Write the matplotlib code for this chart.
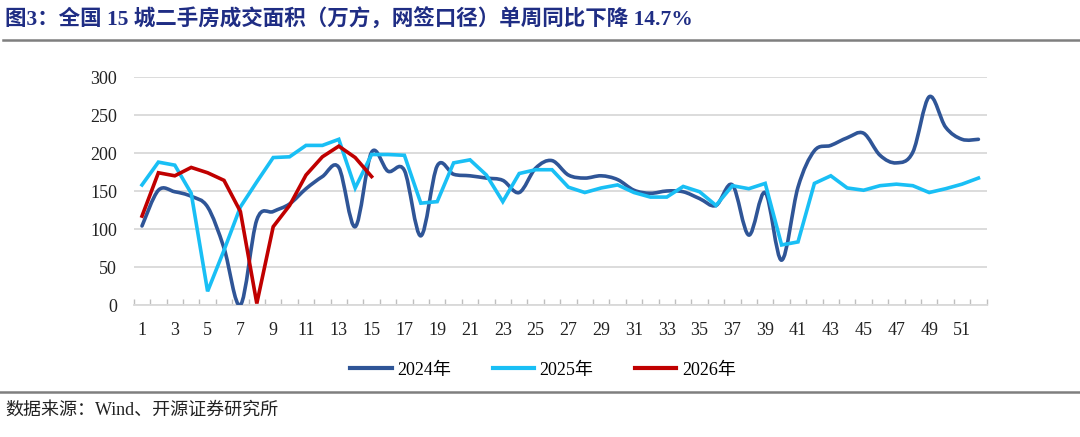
import matplotlib
matplotlib.use("Agg")
import matplotlib.pyplot as plt
from matplotlib.path import Path
from matplotlib.patches import PathPatch
from matplotlib.lines import Line2D
import numpy as np

plt.rcParams['font.family'] = ['Liberation Serif', 'Noto Sans CJK SC', 'DejaVu Sans']

weeks_2024 = list(range(1, 53))
vals_2024 = [104, 151, 149, 143, 129, 75, 0, 112, 123, 133, 153, 169, 181, 103, 201, 176,
             177, 91, 183, 172, 170, 167, 164, 148, 180, 190, 171, 167, 170, 165, 151, 147,
             150, 149, 140, 131, 158, 92, 148, 59, 155, 203, 210, 220, 226, 197, 187, 201,
             274, 234, 218, 218]
weeks_2025 = list(range(1, 53))
vals_2025 = [158, 188, 184, 147, 18, 72, 129, 162, 194, 195, 210, 210, 218, 154, 198, 198,
             197, 134, 136, 187, 191, 171, 136, 173, 178, 178, 155, 148, 154, 158, 148, 142,
             142, 156, 149, 131, 157, 153, 160, 79, 83, 160, 170, 154, 151, 157, 159, 157,
             148, 153, 159, 167]
weeks_2026 = list(range(1, 16))
vals_2026 = [117, 174, 170, 181, 174, 164, 123, 2, 103, 131, 171, 195, 209, 194, 169]

xtick_labels = [str(i) for i in range(1, 53, 2)]
yticks = [0, 50, 100, 150, 200, 250, 300]
series_names = ['2024年', '2025年', '2026年']
colors = ['#2F5597', '#19BFF5', '#C00000']

title = '图3：全国 15 城二手房成交面积（万方，网签口径）单周同比下降 14.7%'
source = '数据来源：Wind、开源证券研究所'

W, H = 1080, 437
fig = plt.figure(figsize=(W / 100, H / 100), dpi=100)
ax = fig.add_axes([133.8 / W, (H - 305) / H, (986.6 - 133.8) / W, (305 - 77) / H])


def smooth_path(xs, ys):
    # Excel-like smoothed line: Catmull-Rom converted to cubic Bezier segments
    xs = np.asarray(xs, float)
    ys = np.asarray(ys, float)
    n = len(xs)
    verts = [(xs[0], ys[0])]
    codes = [Path.MOVETO]
    t = 1 / 6
    for i in range(n - 1):
        p0 = (xs[max(i - 1, 0)], ys[max(i - 1, 0)])
        p1 = (xs[i], ys[i])
        p2 = (xs[i + 1], ys[i + 1])
        p3 = (xs[min(i + 2, n - 1)], ys[min(i + 2, n - 1)])
        c1 = (p1[0] + (p2[0] - p0[0]) * t, p1[1] + (p2[1] - p0[1]) * t)
        c2 = (p2[0] - (p3[0] - p1[0]) * t, p2[1] - (p3[1] - p1[1]) * t)
        verts += [c1, c2, p2]
        codes += [Path.CURVE4] * 3
    return Path(verts, codes)


lw = 2.6
ax.add_patch(PathPatch(smooth_path(weeks_2024, vals_2024), facecolor='none',
                       edgecolor=colors[0], lw=lw, zorder=3, capstyle='round',
                       joinstyle='round'))
ax.plot(weeks_2025, vals_2025, color=colors[1], lw=lw, zorder=3, solid_joinstyle='miter')
ax.plot(weeks_2026, vals_2026, color=colors[2], lw=lw, zorder=4, solid_joinstyle='miter')

ax.set_xlim(0.5, 52.5)
ax.set_ylim(0, 300)
ax.set_yticks(yticks)
ax.set_yticklabels([str(v) for v in yticks], fontsize=13, color='#222222')
ax.set_xticks(range(1, 53, 2))
ax.set_xticklabels(xtick_labels, fontsize=13, color='#222222')
ax.set_xticks(np.arange(0.5, 53, 1), minor=True)
ax.tick_params(axis='x', which='major', length=0, pad=12)
ax.tick_params(axis='x', which='minor', direction='in', length=4, color='#BFBFBF', width=1)
ax.tick_params(axis='y', length=0, pad=12)
ax.grid(axis='y', color='#D9D9D9', lw=1.3, zorder=0)
for s in ['top', 'right', 'left']:
    ax.spines[s].set_visible(False)
ax.spines['bottom'].set_color('#D9D9D9')
ax.spines['bottom'].set_linewidth(1.3)
ax.set_axisbelow(True)

handles = [Line2D([], [], color=c, lw=3) for c in colors]
fig.legend(handles, series_names, loc='center', bbox_to_anchor=(543 / W, 1 - 370 / H),
           ncol=3, frameon=False, fontsize=13, handlelength=2.3, columnspacing=2.3,
           handletextpad=0.3)

fig.text(5 / W, 1 - 20 / H, title, fontsize=15.5, fontweight='bold', color='#1F2D84',
         va='center', ha='left')
fig.add_artist(Line2D([3 / W, 1.0], [1 - 39.5 / H] * 2, color='#7F7F7F', lw=1.8))
fig.add_artist(Line2D([0, 1.0], [1 - 391.5 / H] * 2, color='#7F7F7F', lw=1.8))
fig.text(5 / W, 1 - 410 / H, source, fontsize=13, color='#222222', va='center', ha='left')

fig.savefig('out.png', dpi=100)
